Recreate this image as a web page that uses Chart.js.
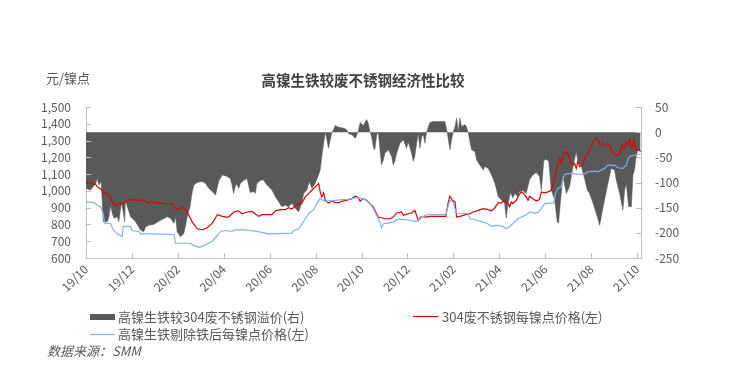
<!DOCTYPE html>
<html>
<head>
<meta charset="utf-8">
<script src="https://cdn.jsdelivr.net/npm/chart.js@4.4.1/dist/chart.umd.min.js"></script>
<style>
  html, body { margin: 0; padding: 0; background: #fff; }
</style>
</head>
<body>
<canvas id="chart" width="733" height="384"></canvas>
<script>
// x values are months counted from 2019/10
const xTickMonths = [0, 2, 4, 6, 8, 10, 12, 14, 16, 18, 20, 22, 24];
const xTickLabels = ['19/10', '19/12', '20/02', '20/04', '20/06', '20/08', '20/10', '20/12', '21/02', '21/04', '21/06', '21/08', '21/10'];

// 高镍生铁较304废不锈钢溢价 (right axis)
const premiumMonths = [0, 0.20, 0.42, 0.49, 0.56, 0.66, 0.75, 0.93, 1.00, 1.07, 1.14, 1.22, 1.36, 1.43, 1.54, 1.62, 1.68, 1.72, 1.80, 1.94, 2.16, 2.38, 2.52, 2.60, 2.74, 2.96, 3.25, 3.54, 3.68, 3.83, 3.90, 3.97, 4.12, 4.26, 4.34, 4.41, 4.53, 4.63, 4.70, 4.85, 5.06, 5.21, 5.35, 5.50, 5.64, 5.79, 5.94, 6.10,
  6.28, 6.36, 6.43, 6.50, 6.57, 6.65, 6.72, 6.86, 7.01, 7.08, 7.15, 7.30, 7.37, 7.44, 7.59, 7.73, 7.88, 8.10, 8.24, 8.39, 8.53, 8.68, 8.82, 8.97, 9.11, 9.26, 9.40, 9.48, 9.62, 9.72, 9.84, 9.98, 10.13, 10.20, 10.27, 10.35, 10.42, 10.49, 10.56, 10.64, 10.71, 10.78, 10.85, 11.00, 11.22, 11.36, 11.44, 11.58, 11.73, 11.80, 11.87, 11.94,
  12.08, 12.22, 12.29, 12.37, 12.44, 12.51, 12.58, 12.66, 12.73, 12.80, 12.87, 12.95, 13.02, 13.16, 13.31, 13.38, 13.45, 13.53, 13.67, 13.82, 13.96, 14.03, 14.18, 14.25, 14.32, 14.40, 14.47, 14.54, 14.62, 14.69, 14.76, 14.83, 14.91, 14.98, 15.12, 15.63, 15.73, 15.78, 15.85, 15.92, 15.99, 16.07, 16.14, 16.21, 16.28, 16.36, 16.50, 16.57, 16.65, 16.72, 16.79, 16.94, 17.01, 17.15, 17.30, 17.37, 17.52, 17.66, 17.81, 17.95,
  18.09, 18.23, 18.30, 18.38, 18.49, 18.59, 18.67, 18.81, 18.88, 19.03, 19.17, 19.32, 19.46, 19.61, 19.75, 19.83, 19.94, 20.04, 20.15, 20.26, 20.41, 20.52, 20.58, 20.67, 20.77, 20.92, 21.06, 21.21, 21.35, 21.42, 21.57, 21.71, 21.83, 21.93, 22.08, 22.22, 22.37, 22.44, 22.58, 22.73, 22.87, 23.02, 23.09, 23.24, 23.34, 23.38, 23.46, 23.53, 23.63, 23.75, 23.82, 23.89, 23.96, 24.04, 24.15];
const premiumValues = [-112, -115, -102, -92, -105, -98, -178, -178, -168, -145, -161, -171, -168, -178, -141, -158, -178, -135, -148, -168, -178, -195, -198, -188, -185, -183, -175, -168, -171, -181, -168, -198, -208, -201, -185, -168, -148, -118, -105, -100, -98, -102, -112, -118, -125, -96, -85, -87,
  -92, -105, -122, -108, -103, -112, -102, -96, -92, -105, -120, -118, -122, -102, -96, -95, -105, -115, -128, -138, -148, -145, -148, -141, -151, -158, -141, -122, -115, -98, -112, -102, -85, -75, -48, -22, 0, -15, -32, -15, 0, 5, 13, 10, 8, 5, -3, -5, -12, -5, 5, 19,
  13, 25, 18, 0, -9, -29, -35, -5, 0, -35, -65, -55, -42, -35, -48, -65, -58, -42, -22, -15, -32, -19, -42, -58, -48, -22, -2, -32, -9, -5, -22, 0, 11, 19, 21, 21, 0, -15, -35, -15, 0, 11, 28, 0, 28, 11, 15, 11, -2, -19, -35, -39, -55, -65, -75, -68, -72, -85, -102, -128,
  -135, -141, -171, -141, -120, -131, -122, -128, -118, -116, -122, -94, -85, -80, -88, -116, -56, -54, -58, -115, -135, -178, -181, -135, -88, -122, -108, -68, -39, -58, -68, -92, -115, -122, -141, -161, -185, -168, -135, -102, -72, -75, -95, -122, -145, -155, -115, -102, -148, -148, -85, -75, -48, -35, -38];

// 304废不锈钢每镍点价格 (left axis)
const scrapMonths = [0, 0.20, 0.42, 0.49, 0.71, 0.78, 1.00, 1.07, 1.25, 1.51, 1.65, 1.87, 2.09, 2.52, 2.60, 2.96, 3.40, 3.76, 3.90, 4.05, 4.19, 4.34, 4.48, 4.63, 4.85, 5.06, 5.28, 5.50, 5.72, 5.94, 6.10,
  6.21, 6.36, 6.50, 6.65, 6.79, 7.01, 7.23, 7.37, 7.52, 7.66, 8.10, 8.24, 8.46, 8.68, 8.82, 8.97, 9.11, 9.26, 9.40, 9.55, 9.69, 9.84, 10.06, 10.13, 10.20, 10.27, 10.35, 10.42, 10.56, 10.71, 10.85, 11.00, 11.14, 11.36, 11.58, 11.73, 11.87, 11.94,
  12.08, 12.22, 12.37, 12.51, 12.66, 12.73, 12.87, 13.02, 13.24, 13.38, 13.53, 13.74, 13.82, 14.03, 14.18, 14.32, 14.40, 14.47, 14.62, 14.76, 14.98, 15.67, 15.78, 15.85, 15.96, 16.07, 16.14, 16.28, 16.57, 16.72, 16.86, 17.08, 17.30, 17.52, 17.66, 17.81, 17.95,
  18.09, 18.23, 18.38, 18.45, 18.52, 18.59, 18.74, 18.81, 18.88, 18.96, 19.03, 19.17, 19.25, 19.32, 19.46, 19.61, 19.75, 19.83, 19.97, 20.12, 20.26, 20.41, 20.52, 20.63, 20.70, 20.77, 20.84, 20.99, 21.06, 21.21, 21.28, 21.35, 21.42, 21.50, 21.64, 21.74, 21.86, 22.00, 22.15, 22.29, 22.37, 22.51, 22.66, 22.80, 22.95, 23.09, 23.24, 23.34, 23.43, 23.53, 23.60, 23.67, 23.77, 23.86, 23.92, 24.01, 24.06, 24.15];
const scrapValues = [1048, 1048, 1040, 1024, 1004, 988, 984, 954, 914, 924, 928, 946, 946, 944, 934, 930, 924, 924, 894, 888, 904, 888, 854, 814, 774, 768, 780, 808, 858, 848, 844,
  844, 864, 878, 880, 864, 874, 878, 864, 848, 858, 858, 880, 888, 888, 900, 892, 908, 924, 928, 964, 984, 1004, 1034, 1044, 994, 964, 988, 944, 928, 940, 932, 930, 938, 944, 954, 968, 960, 938,
  954, 944, 924, 904, 864, 844, 840, 834, 834, 844, 868, 874, 854, 864, 868, 884, 854, 824, 848, 844, 848, 848, 934, 968, 944, 934, 844, 848, 860, 864, 874, 884, 894, 888, 880, 900, 928,
  928, 944, 924, 904, 934, 924, 944, 964, 980, 994, 988, 964, 944, 968, 954, 940, 948, 994, 988, 994, 1004, 1074, 1144, 1194, 1164, 1204, 1234, 1224, 1184, 1154, 1164, 1134, 1174, 1144, 1154, 1204, 1224, 1268, 1304, 1314, 1274, 1284, 1268, 1274, 1224, 1210, 1220, 1274, 1254, 1288, 1274, 1304, 1254, 1304, 1264, 1244, 1248, 1234];

// 高镍生铁剔除铁后每镍点价格 (left axis)
const npiMonths = [0, 0.35, 0.49, 0.64, 0.75, 0.81, 1.07, 1.19, 1.36, 1.58, 1.62, 1.94, 2.01, 2.30, 2.38, 2.81, 3.83, 3.90, 4.55, 4.70, 4.92, 5.13, 5.50, 5.72, 5.86, 6.10,
  6.36, 6.50, 6.94, 7.08, 7.37, 7.81, 7.95, 8.97, 9.04, 9.26, 9.40, 9.55, 9.69, 9.91, 10.06, 10.20, 10.42, 10.85, 11.14, 11.44, 11.65, 11.87,
  12.15, 12.37, 12.51, 12.66, 12.80, 12.87, 12.95, 13.16, 13.38, 13.60, 13.96, 14.25, 14.47, 14.54, 14.69, 14.83, 15.67, 15.78, 15.85, 15.99, 16.07, 16.14, 16.65, 16.72, 16.94, 17.15, 17.45, 17.66, 17.95,
  18.16, 18.30, 18.45, 18.59, 18.81, 19.03, 19.17, 19.32, 19.54, 19.68, 19.83, 19.97, 20.38, 20.44, 20.55, 20.70, 20.77, 20.87, 21.13, 21.42, 21.71, 21.86, 22.15, 22.29, 22.58, 22.73, 23.02, 23.16, 23.38, 23.53, 23.60, 23.67, 23.89, 24.15];
const npiValues = [934, 930, 914, 904, 864, 808, 804, 768, 744, 728, 788, 788, 764, 758, 744, 744, 740, 688, 688, 674, 664, 674, 700, 734, 758, 764,
  758, 768, 768, 764, 760, 748, 744, 748, 764, 774, 800, 834, 864, 888, 924, 954, 938, 944, 948, 950, 956, 958,
  948, 924, 894, 854, 814, 780, 804, 808, 814, 832, 828, 820, 820, 844, 848, 858, 858, 914, 944, 934, 894, 868, 864, 834, 828, 820, 808, 788, 794,
  788, 774, 788, 804, 834, 848, 858, 874, 868, 872, 894, 924, 928, 984, 1014, 1024, 1074, 1100, 1104, 1098, 1100, 1114, 1118, 1114, 1134, 1154, 1154, 1138, 1134, 1154, 1188, 1204, 1214, 1220];

const FONT = '"Noto Sans CJK SC", "Noto Sans", sans-serif';
const TEXT = '#595959';
const AXIS = '#bfbfbf';

const toPoints = (xs, ys) => xs.map((x, i) => ({ x: x, y: ys[i] }));

// title, unit, legend, source and the small inside tick marks
const decorations = {
  id: 'decorations',
  afterDatasetsDraw(chart) {
    const { ctx, chartArea: a, scales } = chart;
    ctx.save();
    ctx.strokeStyle = AXIS;
    ctx.lineWidth = 1;
    ctx.beginPath();
    scales.y.ticks.forEach(t => {
      const py = Math.round(scales.y.getPixelForValue(t.value)) + 0.5;
      ctx.moveTo(a.left, py); ctx.lineTo(a.left + 5, py);
    });
    scales.y1.ticks.forEach(t => {
      const py = Math.round(scales.y1.getPixelForValue(t.value)) + 0.5;
      ctx.moveTo(a.right, py); ctx.lineTo(a.right - 5, py);
    });
    scales.x.ticks.forEach(t => {
      const px = Math.round(scales.x.getPixelForValue(t.value)) + 0.5;
      ctx.moveTo(px, a.bottom); ctx.lineTo(px, a.bottom - 5);
    });
    ctx.stroke();
    ctx.restore();
  },
  afterDraw(chart) {
    const ctx = chart.ctx;
    ctx.save();
    ctx.fillStyle = '#404040';
    ctx.textBaseline = 'middle';
    ctx.textAlign = 'center';
    ctx.font = 'bold 14.5px ' + FONT;
    ctx.fillText('高镍生铁较废不锈钢经济性比较', 363, 80);

    ctx.fillStyle = TEXT;
    ctx.textAlign = 'left';
    ctx.font = '13px ' + FONT;
    ctx.fillText('元/镍点', 46, 78);

    const ds = chart.data.datasets;
    ctx.fillStyle = ds[0].backgroundColor;
    ctx.fillRect(90, 314, 25, 6);
    ctx.lineWidth = 1.2;
    ctx.strokeStyle = ds[1].borderColor;
    ctx.beginPath(); ctx.moveTo(413, 316.5); ctx.lineTo(438, 316.5); ctx.stroke();
    ctx.strokeStyle = ds[2].borderColor;
    ctx.beginPath(); ctx.moveTo(90, 334.5); ctx.lineTo(115, 334.5); ctx.stroke();

    ctx.fillStyle = TEXT;
    ctx.fillText(ds[0].label, 118, 317);
    ctx.fillText(ds[1].label, 442, 317);
    ctx.fillText(ds[2].label, 118, 334);

    ctx.font = 'italic 13px ' + FONT;
    ctx.fillText('数据来源：SMM', 47, 351);
    ctx.restore();
  }
};

new Chart(document.getElementById('chart'), {
  type: 'line',
  data: {
    datasets: [
      {
        label: '高镍生铁较304废不锈钢溢价(右)',
        data: toPoints(premiumMonths, premiumValues),
        yAxisID: 'y1',
        fill: 'origin',
        backgroundColor: '#595959',
        borderColor: '#595959',
        borderWidth: 0.5,
        pointRadius: 0,
        order: 3
      },
      {
        label: '304废不锈钢每镍点价格(左)',
        data: toPoints(scrapMonths, scrapValues),
        yAxisID: 'y',
        fill: false,
        borderColor: '#e00000',
        borderWidth: 1.2,
        pointRadius: 0,
        order: 2
      },
      {
        label: '高镍生铁剔除铁后每镍点价格(左)',
        data: toPoints(npiMonths, npiValues),
        yAxisID: 'y',
        fill: false,
        borderColor: '#7fb2f0',
        borderWidth: 1.2,
        pointRadius: 0,
        order: 1
      }
    ]
  },
  options: {
    responsive: false,
    animation: false,
    layout: { padding: { top: 107, left: 0, right: 0, bottom: 0 } },
    plugins: {
      legend: { display: false },
      tooltip: { enabled: false }
    },
    scales: {
      x: {
        type: 'linear',
        min: 0,
        max: 24.17,
        afterBuildTicks: s => { s.ticks = xTickMonths.map(v => ({ value: v })); },
        afterFit: s => { s.height = 126; },
        grid: { display: false, drawTicks: false },
        border: { color: AXIS },
        ticks: {
          autoSkip: false,
          maxRotation: 45,
          minRotation: 45,
          padding: 4,
          color: TEXT,
          font: { family: FONT, size: 12 },
          callback: (v, i) => xTickLabels[i]
        }
      },
      y: {
        position: 'left',
        min: 600,
        max: 1500,
        afterFit: s => { s.width = 86; },
        grid: { display: false, drawTicks: false },
        border: { color: AXIS },
        ticks: {
          autoSkip: false,
          stepSize: 100,
          padding: 15,
          color: TEXT,
          font: { family: FONT, size: 12 },
          callback: v => v.toLocaleString('en-US')
        }
      },
      y1: {
        position: 'right',
        min: -250,
        max: 50,
        afterFit: s => { s.width = 92; },
        grid: { display: false, drawTicks: false },
        border: { color: AXIS },
        ticks: {
          autoSkip: false,
          stepSize: 50,
          padding: 14,
          color: TEXT,
          font: { family: FONT, size: 12 }
        }
      }
    }
  },
  plugins: [decorations]
});
</script>
</body>
</html>
